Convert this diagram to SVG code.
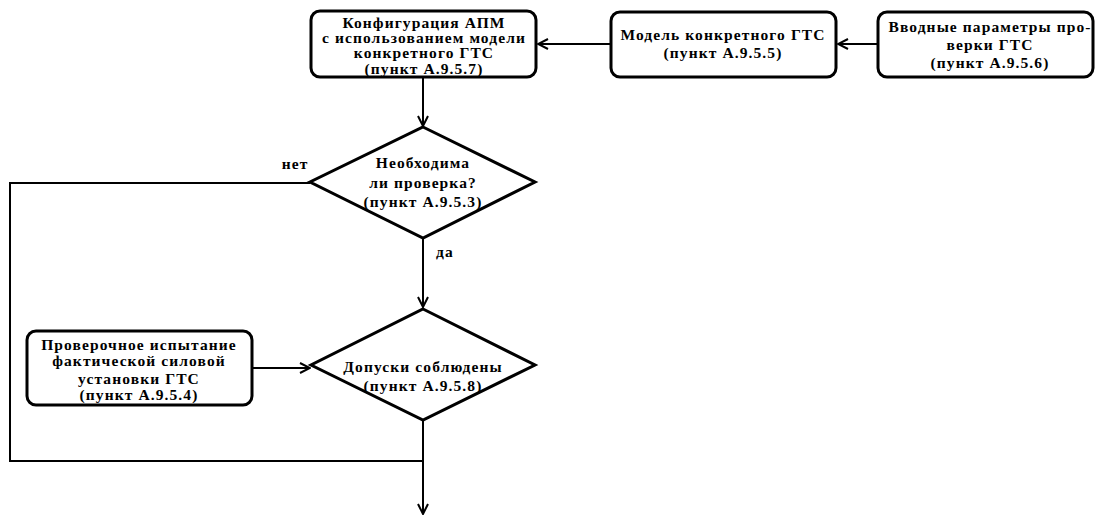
<svg xmlns="http://www.w3.org/2000/svg" width="1095" height="515" viewBox="0 0 1095 515">
<style>
.box{fill:#fff;stroke:#000;stroke-width:3}
.dia{fill:#fff;stroke:#000;stroke-width:3}
.ln{fill:none;stroke:#000;stroke-width:2}
text{font-family:"Liberation Serif","Times New Roman",serif;font-weight:bold;font-size:15.5px;letter-spacing:1.1px;text-anchor:middle;fill:#000}
</style>
<defs>
<marker id="arr" viewBox="0 0 12 12" refX="11" refY="6" markerWidth="12" markerHeight="12" markerUnits="userSpaceOnUse" orient="auto">
<path d="M1,1 L11,6 L1,11" fill="none" stroke="#000" stroke-width="2"/>
</marker>
</defs>
<g id="connectors">
<line class="ln" x1="877" y1="44" x2="838" y2="44" marker-end="url(#arr)"/>
<line class="ln" x1="610" y1="44" x2="538" y2="44" marker-end="url(#arr)"/>
<line class="ln" x1="423" y1="77" x2="423" y2="126" marker-end="url(#arr)"/>
<line class="ln" x1="423" y1="238" x2="423" y2="307" marker-end="url(#arr)"/>
<line class="ln" x1="252" y1="368" x2="310" y2="368" marker-end="url(#arr)"/>
<polyline class="ln" points="310,183 10,183 10,461 423,461"/>
<line class="ln" x1="423" y1="420" x2="423" y2="514" marker-end="url(#arr)"/>
<text x="295" y="169">нет</text>
<text x="445" y="257">да</text>
</g>
<g id="n1">
<rect class="box" x="311" y="11" width="225" height="66" rx="9"/>
<text x="424" y="28">Конфигурация АПМ</text>
<text x="424" y="43">с использованием модели</text>
<text x="424" y="58">конкретного ГТС</text>
<text x="424" y="74">(пункт А.9.5.7)</text>
</g>
<g id="n2">
<rect class="box" x="611" y="12" width="225" height="65" rx="9"/>
<text x="723" y="40">Модель конкретного ГТС</text>
<text x="723" y="58">(пункт А.9.5.5)</text>
</g>
<g id="n3">
<rect class="box" x="878" y="12" width="215" height="65" rx="9"/>
<text x="990" y="32">Вводные параметры про-</text>
<text x="990" y="50">верки ГТС</text>
<text x="990" y="68">(пункт А.9.5.6)</text>
</g>
<g id="n4">
<polygon class="dia" points="423,127 535,182 423,238 310,182"/>
<text x="423" y="168">Необходима</text>
<text x="423" y="188">ли проверка?</text>
<text x="423" y="207">(пункт А.9.5.3)</text>
</g>
<g id="n5">
<rect class="box" x="27" y="331" width="225" height="74" rx="9"/>
<text x="139" y="350">Проверочное испытание</text>
<text x="139" y="366">фактической силовой</text>
<text x="139" y="384">установки ГТС</text>
<text x="139" y="400">(пункт А.9.5.4)</text>
</g>
<g id="n6">
<polygon class="dia" points="423,309 535,365 423,420 311,365"/>
<text x="423" y="372">Допуски соблюдены</text>
<text x="423" y="391">(пункт А.9.5.8)</text>
</g>
</svg>
